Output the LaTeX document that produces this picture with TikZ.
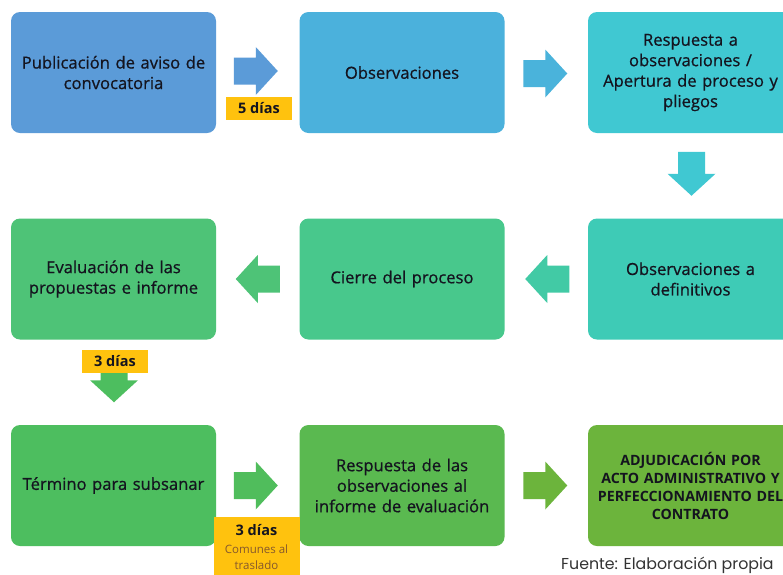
\documentclass[tikz,border=0pt]{standalone}
\usepackage{fontspec}
\setmainfont{Open Sans}
\newfontfamily\medfont{Open Sans}[FakeBold=0.7]
\newfontfamily\srcfont{Poppins}
\usetikzlibrary{calc}
\definecolor{cA}{HTML}{5B9BD8}
\definecolor{cB}{HTML}{4BB1DC}
\definecolor{cC}{HTML}{40C8D2}
\definecolor{cD}{HTML}{3ECBB6}
\definecolor{cE}{HTML}{48C88C}
\definecolor{cF}{HTML}{4EC377}
\definecolor{cG}{HTML}{4DBE5F}
\definecolor{cH}{HTML}{5AB950}
\definecolor{cI}{HTML}{6CB43C}
\definecolor{gold}{HTML}{FFC20E}
\definecolor{txt}{HTML}{14141F}
\tikzset{
  box/.style={rectangle, rounded corners=9pt, minimum width=205pt, minimum height=121pt,
    align=center, text width=200pt, inner sep=0pt, text=txt, font=\medfont\fontsize{16.6}{20.5}\selectfont},
  tag/.style={fill=gold, minimum width=66pt, minimum height=23pt, inner sep=0pt,
    font=\bfseries\fontsize{14.5}{16}\selectfont, text=txt},
  pics/barrow/.style={code={\fill[#1] (-22,-13.5) -- (0,-13.5) -- (0,-24) -- (22,0) -- (0,24) -- (0,13.5) -- (-22,13.5) -- cycle;}}
}
\begin{document}
\begin{tikzpicture}[x=1pt,y=-1pt]
\useasboundingbox (0,0) rectangle (783,574);
\clip (0,0) rectangle (783,574);
\fill[white] (0,0) rectangle (783,574);
% row 1
\node[box, fill=cA] (a1) at (113.5,72.5) {Publicación de aviso de\\convocatoria};
\node[box, fill=cB] (a2) at (402,72.5) {Observaciones};
\node[box, fill=cC] (a3) at (690.5,72.5) {Respuesta a\\observaciones /\\Apertura de proceso y\\pliegos};
% row 2
\node[box, fill=cF] (b1) at (113.5,279) {Evaluación de las\\propuestas e informe};
\node[box, fill=cE] (b2) at (402,279) {Cierre del proceso};
\node[box, fill=cD] (b3) at (690.5,279) {Observaciones a\\definitivos};
% row 3
\node[box, fill=cG] (c1) at (113.5,485.5) {Término para subsanar};
\node[box, fill=cH] (c2) at (402,485.5) {Respuesta de las\\observaciones al\\informe de evaluación};
\node[box, fill=cI, font=\bfseries\fontsize{14.2}{18}\selectfont] (c3) at (690.5,485.5) {ADJUDICACIÓN POR\\ACTO ADMINISTRATIVO Y\\PERFECCIONAMIENTO DEL\\CONTRATO};
% block arrows
\pic at ($(a1.east)!0.5!(a2.west)+(-2,-1.5)$) {barrow=cA};
\pic at ($(a2.east)!0.5!(a3.west)+(-1,1)$) {barrow=cB!90!cC};
\pic[rotate=-90] at ($(a3.south)!0.5!(b3.north)+(1,-2)$) {barrow=cC};
\pic[rotate=180] at ($(b3.west)!0.5!(b2.east)+(1,0)$) {barrow=cD!60!cE};
\pic[rotate=180] at ($(b2.west)!0.5!(b1.east)+(0,0)$) {barrow=cF};
\pic[rotate=-90] at ($(b1.south)!0.5!(c1.north)+(0.5,-2)$) {barrow=cG};
\pic at ($(c1.east)!0.5!(c2.west)+(-2,0)$) {barrow=cG!80!cH};
\pic at ($(c2.east)!0.5!(c3.west)+(-1,0)$) {barrow=cI};
% tags
\node[tag] (t1) at (259,108.5) {5 días};
\node[tag] (t2) at (115,361) {3 días};
\node[fill=gold, minimum width=86pt, minimum height=62pt, inner sep=0pt, anchor=north] (t3) at (256.5,517) {};
\node[font=\bfseries\fontsize{14.5}{16}\selectfont, text=txt] (t3a) at (256.5,530.5) {3 días};
\node[font=\fontsize{11.5}{15.5}\selectfont, text=brown!70!black, align=center] (t3b) at (256.5,557) {Comunes al\\traslado};
% source
\node[anchor=base west, font=\srcfont\fontsize{15.8}{18}\selectfont, text=black!80, inner sep=0pt] (src) at (561,569) {Fuente: Elaboración propia};
\end{tikzpicture}
\end{document}
